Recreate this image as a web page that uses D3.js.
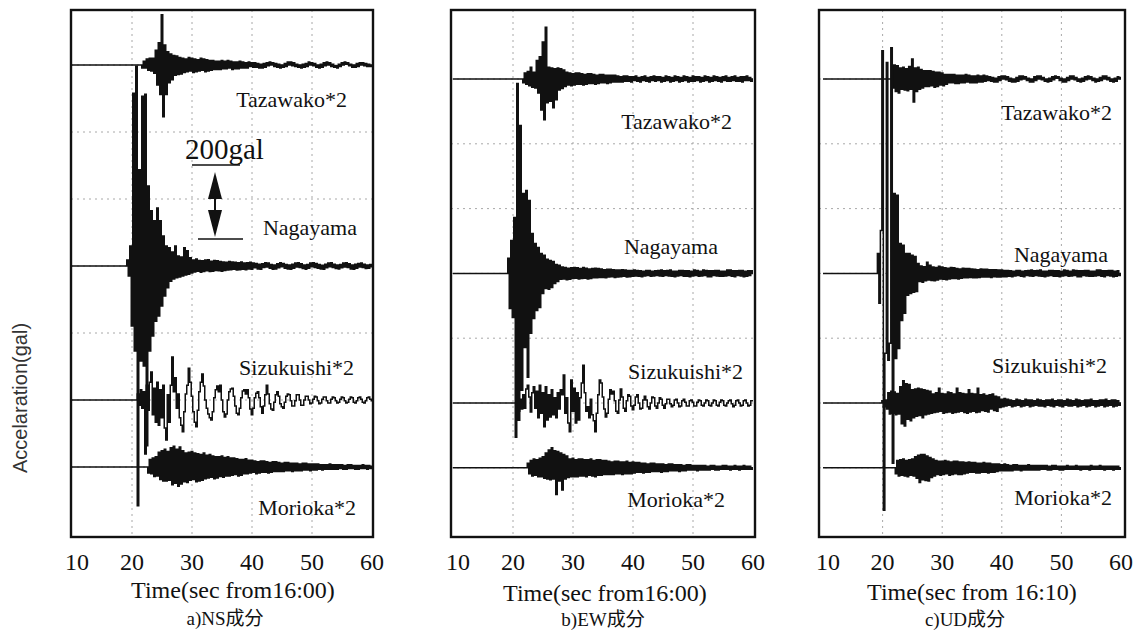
<!DOCTYPE html>
<html><head><meta charset="utf-8">
<script src="https://cdn.jsdelivr.net/npm/d3@7"></script>
<style>body{margin:0;background:#fff}svg{display:block}</style>
</head><body><svg id="c" width="1133" height="634"></svg>
<script>
// ---------------- data ----------------
const components = ["a)NS成分", "b)EW成分", "c)UD成分"];
const timeTitles = ["Time(sec from16:00)", "Time(sec from16:00)", "Time(sec from 16:10)"];
const stations = ["Tazawako*2", "Nagayama", "Sizukuishi*2", "Morioka*2"];
const gains = [2, 1, 2, 2];
const timeTicks = [10, 20, 30, 40, 50, 60];
const timeDomain = [10, 60];
const sampleStep = 0.25;          // seconds between samples
const scaleBarGal = 200;
const yTitle = "Accelaration(gal)";

// onset time of each record (s), order = stations
const nsOnsets = [21.5, 19.0, 20.75, 22.5];
const ewOnsets = [21.5, 19.0, 20.5, 22.25];
const udOnsets = [21.5, 19.0, 19.75, 22.0];

// acceleration samples (gal), every 0.25 s from onset
const nsTazawako = [0,-4,5,-4, 8,-7,9,-8, 9,-11,20,-27, 30,-40,68,-70, 27,-40,18,-24, 15,-20,13,-14,
 12,-13,10,-12, 9,-10,8,-9, 10,-8,9,-10, 8,-9,7,-8, 9,-7,8,-9, 7,-8,6,-7, 6,-6,5,-6, 5,-6,6,-5,
 5,-5,6,-4, 5,-6,4,-5, 4,-5,5,-4, 4,-4,3,-4, 4,-2,3,-3, 3,-3,2,-4, 1,-4,2,-3, 3,-1,4,0, 3,-2,2,-3,
 1,-4,0,-3, 2,-2,4,0, 4,-1,3,-2, 1,-3,0,-4, 1,-3,2,-2, 4,0,3,-1, 2,-3,0,-4, 1,-3,3,-1, 4,0,3,-2,
 1,-3,-1,-4, 1,-2,3,0, 4,1,3,-1, 1,-3,0,-3, 2,-2,3,0, 3,-1,2,-2, 1,-2,0];
const nsNagayama = [0,16,-27,54, -162,467,-230,540, -648,260,-257,459, -270,464,-486,216, -230,149,-189,122,
 -149,157,-135,122, -108,81,-81,54, -59,49,-41,38, -35,54,-32,27, -30,24,-27,49, -24,41,-22,22,
 -19,16,-16,19, -14,15,-17,14, -15,16,-13,17, -15,13,-14,15, -12,14,-13,12, -14,11,-12,10,
 -11,12,-10,11, -9,10,-11,9, -10,11,-9,8, -10,9,-8,10, -9,8,-5,7, -8,5,-9,6, -4,9,-3,8, -6,4,-9,3,
 -8,6,-5,9, -2,7,-6,4, -8,3,-9,5, -6,8,-3,9, -4,6,-7,3, -9,4,-6,8, -2,9,-4,7, -6,4,-8,2, -9,5,-5,8,
 -2,9,-4,5, -7,3,-8,4, -5,8,-3,9, -4,6,-8,3, -9,5,-6,7, -3,8,-4,5, -7,3,-6,4, -2];
const nsSizukuishi = [0,8,-7,14, -11,11,-73,20, -14,24,38,-20, 16,-30,24,-34, 14,-24,20,-38, -54,7,-30,20,
 58,11,30,-11, 8,-24,-34,-43, -16,8,20,43, 24,5,-16,-30, -36,-14,11,24, 35,19,0,-11, -19,-24,-27,-16,
 3,14,19,11, 20,0,-16,-23, -19,0,11,15, 16,5,-8,-18, -20,-11,3,12, 14,8,14,3, -12,-20,-11,3,
 9,11,3,-9, -18,-8,7,20, 8,-5,-12,-14, -3,7,11,5, -5,-9,-11,-3, 5,8,7,-1, -8,-8,-1,7, 7,0,-7,-7,
 0,5,5,0, -5,-4,1,5, 4,-1,-5,-4, 1,4,4,-1, -4,-4,1,4, 3,-1,-4,-3, 1,4,3,-1, -4,-3,1,4, 3,-3,-4,-1,
 3,4,1,-3, -4,-1,3,4, 1,-1];
const nsMorioka = [0,-8,10,-9, 12,-13,14,-12, 20,-17,22,-19, 24,-19,21,-18, 26,-24,28,-22, 24,-26,27,-23,
 22,-20,19,-21, 20,-18,21,-17, 19,-20,18,-19, 17,-18,19,-16, 16,-15,17,-14, 15,-16,14,-15, 14,-13,15,-14,
 13,-12,14,-12, 12,-11,12,-10, 11,-12,10,-11, 10,-9,11,-9, 9,-8,9,-7, 8,-9,7,-8, 8,-7,8,-7, 7,-8,6,-7,
 7,-6,7,-6, 6,-6,5,-6, 6,-5,6,-5, 5,-6,5,-5, 5,-5,4,-5, 5,-4,5,-4, 4,-5,4,-4, 4,-4,4,-3, 3,-4,3,-3,
 3,-3,4,-3, 3,-3,3,-3, 3,-2,3,-3, 2,-3,3,-2, 3,-2,2,-3, 2,-3,2,-2, 3,-2,2,-3, 2,-2,1];

const ewTazawako = [0,-5,8,-7, 10,-9,16,-11, 9,-12,25,-19, 30,-42,50,-55, 70,-32,16,-30, 15,-39,14,-28,
 15,-15,14,-13, 12,-10,9,-8, 8,-9,7,-8, 8,-7,8,-7, 7,-8,6,-7, 7,-6,7,-6, 6,-7,5,-6, 6,-5,6,-5,
 5,-6,5,-5, 5,-4,5,-4, 4,-4,3,-4, 4,-3,4,-3, 3,-4,3,-2, 4,-3,2,-4, 3,-2,4,-3, 2,-4,3,-2, 4,-3,3,-2,
 3,-4,2,-3, 4,-2,3,-4, 2,-3,4,-2, 3,-4,2,-3, 4,-2,3,-4, 2,-3,4,-3, 3,-2,3,-4, 2,-3,4,-2, 3,-4,2,-3,
 4,-2,3,-3, 2,-4,3,-2, 4,-3,2,-3, 3,-2,4,-3, 2,-3,3,-4, 3,-2,4,-2, 2,-3,0];
const ewNagayama = [0,41,-95,89, -119,151,-443,513, -397,400,-316,216, -200,224,-281,197, -162,108,-122,81,
 -100,70,-92,54, -54,49,-41,38, -43,35,-38,32, -27,24,-22,22, -16,17,-15,16, -17,14,-16,15,
 -14,16,-13,15, -15,13,-14,16, -13,14,-15,12, -14,13,-12,14, -12,13,-11,12, -11,10,-12,11,
 -10,11,-9,10, -11,9,-10,9, -9,10,-8,9, -10,8,-9,8, -8,9,-7,8, -8,7,-9,6, -7,8,-6,8, -8,6,-7,7,
 -6,8,-7,9, -8,7,-6,8, -7,9,-8,6, -9,6,-7,8, -6,8,-8,7, -8,7,-9,6, -7,9,-6,8, -8,6,-7,9, -6,8,-9,7,
 -9,7,-6,8, -7,8,-8,6, -8,6,-7,9, -6,9,-8,7, -9,7,-6,8, -7,8,-9,6, -8,7,-6,7, 0];
const ewSizukuishi = [0,7,-11,5, -8,11,-7,19, 24,8,-12,14, 22,-7,16,-20, 24,-14,14,-32, 22,-23,11,-19,
 18,-16,7,-20, 14,-8,18,11, 38,-14,7,-27, -39,31,-11,20, -27,14,-23,7, 27,51,14,-11, -5,-20,5,-16,
 -24,-39,-14,11, 31,27,8,-8, -19,-14,5,18, 12,16,3,-11, -14,4,19,8, -7,-11,3,11, 9,-4,-9,-3,
 8,11,0,-8, -7,4,9,4, -5,-8,0,8, 7,-4,-7,0, 7,5,-3,-7, -1,5,5,-1, -5,-3,4,5, 0,-5,-4,3, 5,1,-4,-4,
 3,4,1,-4, -4,1,4,3, -3,-4,0,4, 3,-3,-4,0, 4,3,-3,-4, 1,4,3,-3, -4,0,3,4, -1,-5,-3,3, 4,0,-4,-3,
 3,4,0,-4, -3,3,3];
const ewMorioka = [0,6,-8,10, -11,12,-10,11, -12,13,-12,15, -14,20,-15,24, -16,27,-15,23, -36,22,-18,20,
 -30,18,-15,16, -13,12,-12,13, -12,11,-12,12, -11,12,-11,11, -12,11,-10,12, -11,10,-12,11, -10,11,-10,10,
 -9,10,-9,9, -9,8,-9,9, -8,9,-8,8, -9,8,-8,9, -8,7,-8,8, -7,7,-6,7, -6,6,-7,6, -6,5,-6,6, -5,6,-5,5,
 -5,5,-6,5, -5,4,-5,5, -4,5,-4,4, -4,4,-5,4, -4,3,-4,4, -3,4,-3,3, -3,3,-4,3, -3,3,-3,3, -3,2,-3,3,
 -2,3,-3,2, -3,2,-2,3, -2,3,-2,2, -3,2,-2,3, -2,2,-3,2, -2,3,-2,2, -2,2,-2,0];

const udTazawako = [0,-12,19,-17, 18,-19,15,-14, 16,-15,14,-16, 17,-14,27,-31, 15,-17,16,-14, 13,-12,11,-10,
 11,-10,11,-9, 10,-11,9,-10, 9,-8,8,-9, 6,-7,6,-5, 6,-5,6,-6, 5,-6,5,-5, 5,-5,6,-4, 5,-5,4,-5,
 4,-5,5,-4, 4,-4,5,-3, 4,-2,3,-3, 2,-4,1,-4, 3,-2,4,0, 4,-1,3,-3, 1,-4,0,-4, 2,-3,4,-1, 4,0,3,-2,
 1,-4,0,-4, 3,-2,4,0, 4,-1,2,-3, 0,-4,1,-3, 3,-1,4,1, 3,-2,1,-4, 0,-4,2,-2, 4,0,4,-1, 2,-3,0,-4,
 1,-3,3,-1, 4,0,3,-2, 1,-4,0,-3, 2,-2,4,0, 4,-1,2,-3, 0,-4,1,-3, 3,0,2];
const udNagayama = [0,54,-81,116, 602,-640,-216,570, -235,-189,610,-513, 216,-230,211,-203, 81,-127,76,-108,
 54,-59,54,-54, 49,-51,46,-49, 27,-22,20,-24, 18,-20,30,-18, 22,-19,17,-20, 16,-18,19,-15,
 17,-16,15,-17, 14,-15,16,-14, 15,-14,13,-15, 12,-13,14,-12, 13,-12,13,-11, 12,-12,11,-12,
 10,-11,12,-10, 11,-10,11,-10, 10,-11,10,-9, 10,-10,9,-10, 9,-9,8,-9, 8,-8,7,-9, 6,-7,8,-6, 8,-8,6,-9,
 7,-6,8,-7, 9,-8,7,-6, 8,-7,9,-8, 6,-9,6,-7, 8,-6,8,-8, 7,-8,7,-9, 6,-7,9,-6, 8,-8,6,-7, 9,-6,8,-9,
 7,-9,7,-6, 8,-7,8,-8, 6,-8,6,-7, 9,-6,9,-8, 7,-9,7,-6, 8,-7,8,-9, 6,-8,7,-6, 0];
const udSizukuishi = [0,3,-5,4, -8,14,-15,16, -14,15,-16,13, -15,22,-28,30, -31,26,-22,25, -24,18,-20,19,
 -18,20,-17,19, -20,18,-16,17, -15,16,-14,12, -13,14,-12,20, -11,13,-14,12, -13,15,-12,14, -14,12,-13,20,
 -12,14,-11,13, -13,12,-14,18, -12,13,-11,12, -13,20,-12,11, -10,12,-11,10, -12,11,-8,12, -10,9,-11,8,
 -6,5,-5,6, -4,5,-3,4, -5,3,-4,5, -3,4,-5,3, -4,5,-3,4, -5,4,-4,3, -3,5,-4,4, -4,3,-5,4, -3,4,-4,5,
 -5,3,-3,4, -4,4,-5,3, -3,5,-4,4, -4,3,-3,5, -5,4,-4,3, -3,4,-5,4, -4,5,-3,3, -5,3,-4,4, -3,4,-5,5,
 -4,3,-3,4, -5,4,-4,3, -3,0];
const udMorioka = [0,-8,10,-11, 11,-10,12,-11, 10,-12,11,-10, 12,-11,15,-14, 17,-20,18,-16, 18,-17,16,-18,
 14,-13,12,-11, 10,-9,9,-10, 9,-9,10,-8, 9,-10,8,-9, 9,-8,9,-9, 8,-9,8,-8, 7,-7,8,-6, 7,-6,7,-7,
 6,-7,6,-6, 7,-6,6,-7, 6,-6,5,-6, 5,-5,5,-4, 4,-4,5,-4, 4,-4,3,-4, 4,-3,4,-3, 3,-4,3,-3, 3,-3,4,-3,
 3,-3,3,-3, 3,-3,3,-2, 3,-2,3,-3, 2,-3,3,-2, 3,-2,2,-3, 2,-3,2,-2, 3,-2,2,-2, 2,-2,3,-2, 2,-3,2,-2,
 2,-2,2,-3, 3,-2,2,-2, 2,-2,3,-2, 2,-3,2,-2, 2,-2,2,-3, 2,-2,2,-2, 0];

const nsRecords = [nsTazawako, nsNagayama, nsSizukuishi, nsMorioka];
const ewRecords = [ewTazawako, ewNagayama, ewSizukuishi, ewMorioka];
const udRecords = [udTazawako, udNagayama, udSizukuishi, udMorioka];

// ---------------- layout ----------------
const traceRows = [0, 3, 5, 6];
const panels = [
  {records: nsRecords, onsets: nsOnsets, xr: [72, 372], box: [71, 10, 373, 537], row0: 65, rowStep: 67,
   timeX: 233, timeY: 598, capX: 225, capY: 625, lab: [[347,107],[357,235],[354,375],[356,515]], bar: true},
  {records: ewRecords, onsets: ewOnsets, xr: [453, 753], box: [451, 10, 755, 537], row0: 79, rowStep: 64.8,
   timeX: 605, timeY: 601, capX: 603, capY: 626, lab: [[732,129],[718,254],[743,379],[725,507]]},
  {records: udRecords, onsets: udOnsets, xr: [823, 1121], box: [819, 10, 1125, 537], row0: 79, rowStep: 64.8,
   timeX: 972, timeY: 600, capX: 965, capY: 626, lab: [[1112,120],[1108,262],[1107,373],[1112,505]]}
];
const amp = d3.scaleLinear().domain([0, scaleBarGal]).range([0, 74]);
const serif = "'Liberation Serif','Times New Roman',serif";

const svg = d3.select("#c");

panels.forEach((p, pi) => {
  const g = svg.append("g");
  const x = d3.scaleLinear().domain(timeDomain).range(p.xr);
  const row = d3.scaleLinear().domain([0, 1]).range([p.row0, p.row0 + p.rowStep]);
  const [bx0, by0, bx1, by1] = p.box;

  const clipId = "clip" + pi;
  svg.append("clipPath").attr("id", clipId).append("rect")
    .attr("x", bx0).attr("y", by0).attr("width", bx1 - bx0).attr("height", by1 - by0);

  // grid
  g.selectAll(".vg").data(timeTicks.slice(1, -1)).join("line")
    .attr("x1", d => x(d)).attr("x2", d => x(d)).attr("y1", by0).attr("y2", by1)
    .attr("stroke", "#a8a8a8").attr("stroke-width", 1).attr("stroke-dasharray", "2,4");
  g.selectAll(".hg").data(d3.range(0, 7)).join("line")
    .attr("x1", bx0).attr("x2", bx1).attr("y1", d => row(d)).attr("y2", d => row(d))
    .attr("stroke", "#a8a8a8").attr("stroke-width", 1).attr("stroke-dasharray", "2,4");

  // traces (each sample held for one sample interval, like a decimated seismogram)
  const tg = g.append("g").attr("clip-path", `url(#${clipId})`);
  p.records.forEach((rec, si) => {
    const base = row(traceRows[si]);
    const pts = [{t: timeDomain[0], v: 0}].concat(rec.map((v, i) => ({t: p.onsets[si] + i * sampleStep, v})));
    const line = d3.line().curve(d3.curveStep).x(d => x(d.t)).y(d => base - amp(d.v * gains[si]));
    tg.append("path").attr("d", line(pts)).attr("fill", "none")
      .attr("stroke", "#111").attr("stroke-width", 1.5).attr("stroke-linejoin", "miter");
  });

  // station labels
  g.selectAll(".lab").data(stations).join("text")
    .attr("x", (d, i) => p.lab[i][0]).attr("y", (d, i) => p.lab[i][1])
    .attr("text-anchor", "end").attr("font-family", serif).attr("font-size", 22).attr("fill", "#111")
    .text(d => d);

  // box
  g.append("rect").attr("x", bx0).attr("y", by0).attr("width", bx1 - bx0).attr("height", by1 - by0)
    .attr("fill", "none").attr("stroke", "#111").attr("stroke-width", 2.4);

  // tick labels
  g.selectAll(".tk").data(timeTicks).join("text")
    .attr("x", d => x(d)).attr("dx", d => d === timeDomain[0] ? 5 : 0).attr("y", 570).attr("text-anchor", "middle")
    .attr("font-family", serif).attr("font-size", 24).attr("fill", "#111").text(d => d);

  g.append("text").attr("x", p.timeX).attr("y", p.timeY).attr("text-anchor", "middle")
    .attr("font-family", serif).attr("font-size", 24).attr("fill", "#111").text(timeTitles[pi]);
  g.append("text").attr("x", p.capX).attr("y", p.capY).attr("text-anchor", "middle")
    .attr("font-family", serif + ",'Noto Sans CJK JP'").attr("font-size", 19).attr("fill", "#111").text(components[pi]);

  // scale bar
  if (p.bar) {
    const yb = 239, yt = yb - amp(scaleBarGal), ax = 215;
    g.append("line").attr("x1", 192).attr("x2", 240).attr("y1", yt).attr("y2", yt).attr("stroke", "#111").attr("stroke-width", 1.5);
    g.append("line").attr("x1", 198).attr("x2", 243).attr("y1", yb).attr("y2", yb).attr("stroke", "#111").attr("stroke-width", 1.5);
    g.append("line").attr("x1", ax).attr("x2", ax).attr("y1", yt + 20).attr("y2", yb - 20).attr("stroke", "#111").attr("stroke-width", 2);
    g.append("path").attr("d", `M${ax},${yt + 7}L${ax - 7},${yt + 34}L${ax + 7},${yt + 34}Z`).attr("fill", "#111");
    g.append("path").attr("d", `M${ax},${yb - 2}L${ax - 7},${yb - 29}L${ax + 7},${yb - 29}Z`).attr("fill", "#111");
    g.append("text").attr("x", 185).attr("y", yt - 6).attr("font-family", serif).attr("font-size", 29)
      .attr("fill", "#111").text(scaleBarGal + "gal");
  }
});

svg.append("text").attr("transform", "translate(27,398) rotate(-90)").attr("text-anchor", "middle")
  .attr("font-family", "'Liberation Sans',Arial,sans-serif").attr("font-size", 20).attr("fill", "#333").text(yTitle);
</script>
</body></html>
